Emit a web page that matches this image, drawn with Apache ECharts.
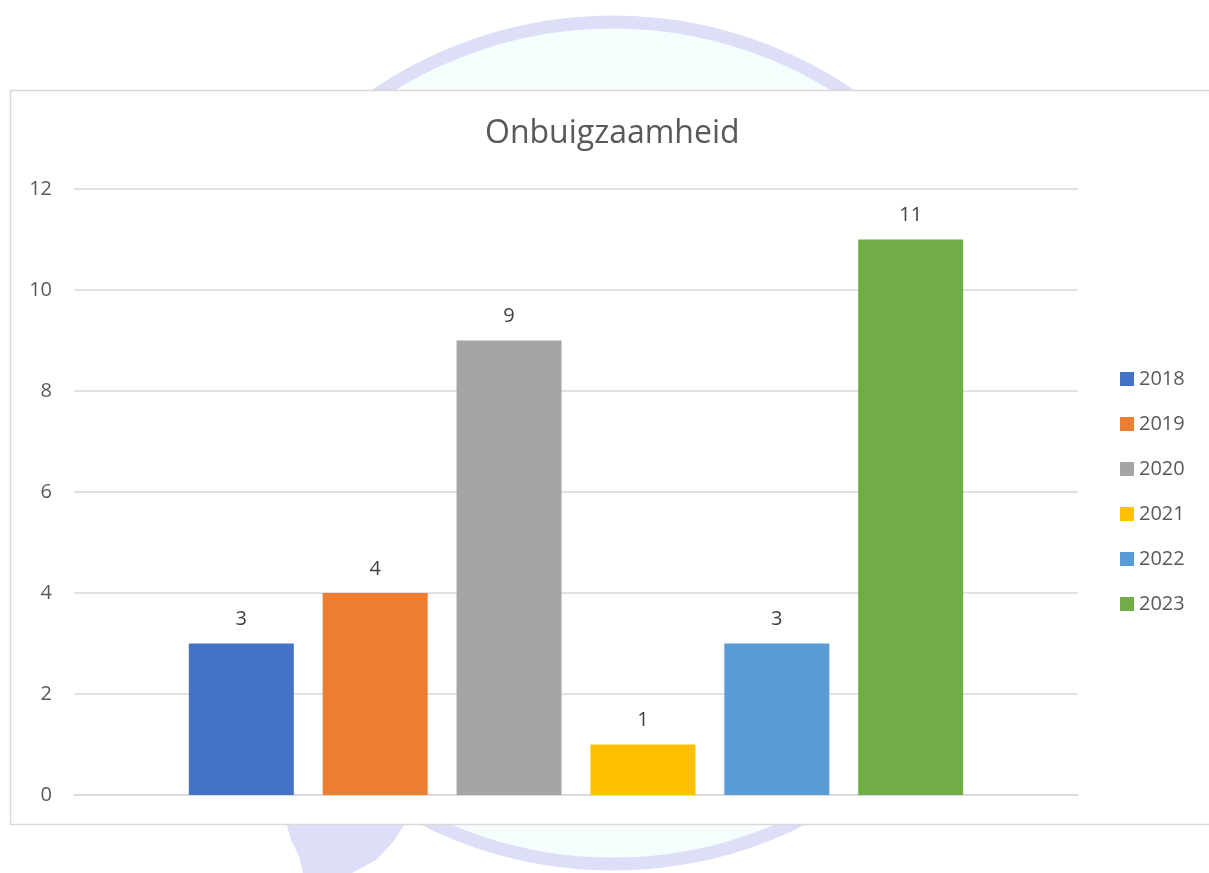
<!DOCTYPE html>
<html>
<head>
<meta charset="utf-8">
<script src="https://cdn.jsdelivr.net/npm/echarts@6/dist/echarts.min.js"></script>
<style>html,body{margin:0;padding:0;background:#fff;}#c{width:1209px;height:873px;}</style>
</head>
<body>
<div id="c"></div>
<script>
const title = 'Onbuigzaamheid';
const category = ['Onbuigzaamheid'];
const years = ['2018', '2019', '2020', '2021', '2022', '2023'];
const values = [3, 4, 9, 1, 3, 11];
const colors = ['#4472C4', '#ED7D31', '#A5A5A5', '#FFC000', '#5B9BD5', '#70AD47'];
const yTicks = { min: 0, max: 12, interval: 2 };

const font = '"Open Sans", "Noto Sans", sans-serif';
const chart = echarts.init(document.getElementById('c'), null, { renderer: 'canvas' });

const series = years.map((y, i) => ({
  name: y,
  type: 'bar',
  data: [values[i]],
  barWidth: 105,
  barGap: '27.5%',
  itemStyle: { color: colors[i] },
  label: {
    show: true, position: 'top', distance: 14,
    fontFamily: font, fontSize: 20, color: '#404040'
  },
  z: 5
}));

chart.setOption({
  animation: false,
  backgroundColor: '#ffffff',
  graphic: [
    { type: 'circle', z: -30, shape: { cx: 613, cy: 443, r: 421 },
      style: { fill: '#f6fdfd', stroke: '#dcdff7', lineWidth: 13 } },
    { type: 'polygon', z: -29, shape: { points: [[286, 822], [291, 840], [299, 856], [303, 873], [352, 873], [376, 860], [393, 842], [406, 822]] },
      style: { fill: '#dcdff7' } },
    { type: 'rect', z: -20, shape: { x: 10.5, y: 90.5, width: 1220, height: 734 },
      style: { fill: '#ffffff', stroke: '#d9d9d9', lineWidth: 1.5 } }
  ],
  title: {
    text: title, left: 485, top: 118, padding: 0,
    textStyle: { fontFamily: font, fontSize: 32, fontWeight: 'normal', color: '#595959' }
  },
  legend: {
    orient: 'vertical', left: 1120, top: 369, padding: 0,
    icon: 'rect', itemWidth: 14, itemHeight: 14, itemGap: 25,
    textStyle: { fontFamily: font, fontSize: 20, color: '#595959', lineHeight: 20 },
    data: years
  },
  grid: { left: 74, right: 131, top: 189, bottom: 78, containLabel: false },
  xAxis: {
    type: 'category', data: category,
    axisLine: { show: true, lineStyle: { color: '#d9d9d9', width: 1.5 } },
    axisTick: { show: false },
    axisLabel: { show: false }
  },
  yAxis: {
    type: 'value', min: yTicks.min, max: yTicks.max, interval: yTicks.interval,
    axisLine: { show: false }, axisTick: { show: false },
    axisLabel: { fontFamily: font, fontSize: 20, color: '#595959', margin: 22 },
    splitLine: { lineStyle: { color: '#d9d9d9', width: 1.5 } }
  },
  series: series
});
</script>
</body>
</html>
